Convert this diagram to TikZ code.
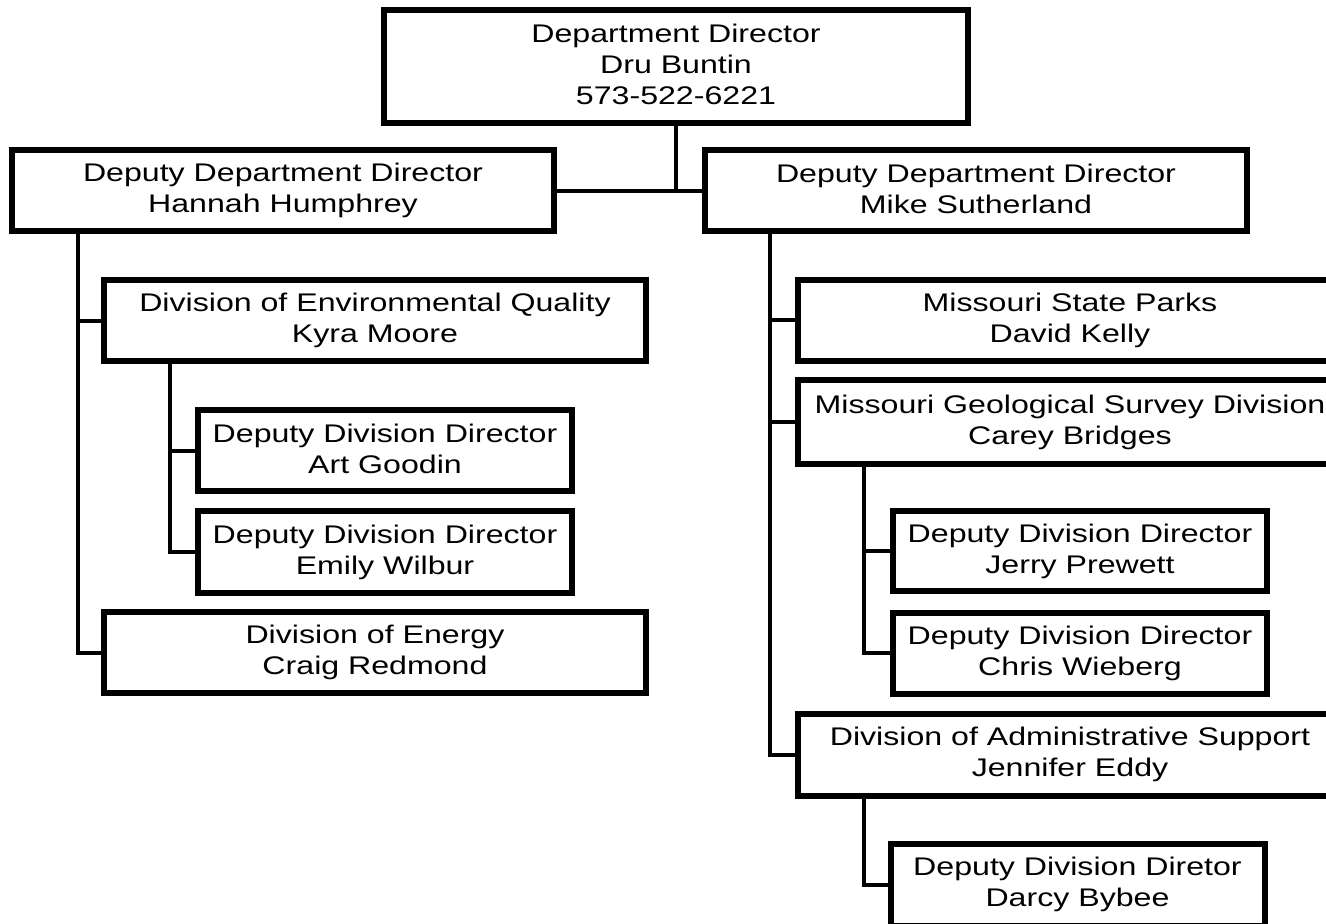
\documentclass[tikz,border=0pt]{standalone}
\usepackage{fontspec}
\setmainfont[FakeStretch=1.26]{Liberation Sans}
\begin{document}
\begin{tikzpicture}[x=1pt,y=-1pt,
  box/.style={draw=black, line width=6pt, fill=white, inner sep=0pt, align=center,
    font=\fontsize{25.5}{31}\selectfont,
    execute at begin node=\rule{0pt}{26pt}, execute at end node=\rule[-4pt]{0pt}{4pt}},
  conn/.style={draw=black, line width=4pt, line cap=rect}]
\useasboundingbox (0,0) rectangle (1326,924);
\fill[white] (0,0) rectangle (1326,924);
% boxes
\node[box, minimum width=584pt, minimum height=113pt] (top) at (676,66.5) {Department Director\\Dru Buntin\\573-522-6221};
\node[box, minimum width=542pt, minimum height=81pt] (depL) at (283,190.5) {Deputy Department Director\\Hannah Humphrey};
\node[box, minimum width=542pt, minimum height=81pt] (depR) at (976,190.5) {Deputy Department Director\\Mike Sutherland};
\node[box, minimum width=542pt, minimum height=81pt] (env) at (375,320.5) {Division of Environmental Quality\\Kyra Moore};
\node[box, minimum width=374pt, minimum height=81pt] (art) at (385,450.5) {Deputy Division Director\\Art Goodin};
\node[box, minimum width=374pt, minimum height=82pt] (emily) at (385,552) {Deputy Division Director\\Emily Wilbur};
\node[box, minimum width=542pt, minimum height=81pt] (energy) at (375,652.5) {Division of Energy\\Craig Redmond};
\node[box, minimum width=544pt, minimum height=81.5pt] (parks) at (1070,320.25) {Missouri State Parks\\David Kelly};
\node[box, minimum width=544pt, minimum height=83.5pt] (geo) at (1070,422) {Missouri Geological Survey Division\\Carey Bridges};
\node[box, minimum width=374pt, minimum height=80pt] (jerry) at (1080,551) {Deputy Division Director\\Jerry Prewett};
\node[box, minimum width=374pt, minimum height=81pt] (chris) at (1080,653) {Deputy Division Director\\Chris Wieberg};
\node[box, minimum width=544pt, minimum height=82pt] (admin) at (1070,754.5) {Division of Administrative Support\\Jennifer Eddy};
\node[box, minimum width=374pt, minimum height=82pt] (darcy) at (1077.5,884.5) {Deputy Division Diretor\\Darcy Bybee};
% connector spines
\coordinate (lv) at (78,0);
\coordinate (ev) at (169.5,0);
\coordinate (rv) at (769.5,0);
\coordinate (gv) at (864,0);
% connectors
\draw[conn] (top.south) -- (top.south |- depL.east);
\draw[conn] (depL.east) -- (depR.west);
\draw[conn] (depL.south -| lv) -- (lv |- energy.west) -- (energy.west);
\draw[conn] (lv |- env.west) -- (env.west);
\draw[conn] (env.south -| ev) -- (ev |- emily.west) -- (emily.west);
\draw[conn] (ev |- art.west) -- (art.west);
\draw[conn] (depR.south -| rv) -- (rv |- admin.west) -- (admin.west);
\draw[conn] (rv |- parks.west) -- (parks.west);
\draw[conn] (rv |- geo.west) -- (geo.west);
\draw[conn] (geo.south -| gv) -- (gv |- chris.west) -- (chris.west);
\draw[conn] (gv |- jerry.west) -- (jerry.west);
\draw[conn] (admin.south -| gv) -- (gv |- darcy.west) -- (darcy.west);
\end{tikzpicture}
\end{document}
